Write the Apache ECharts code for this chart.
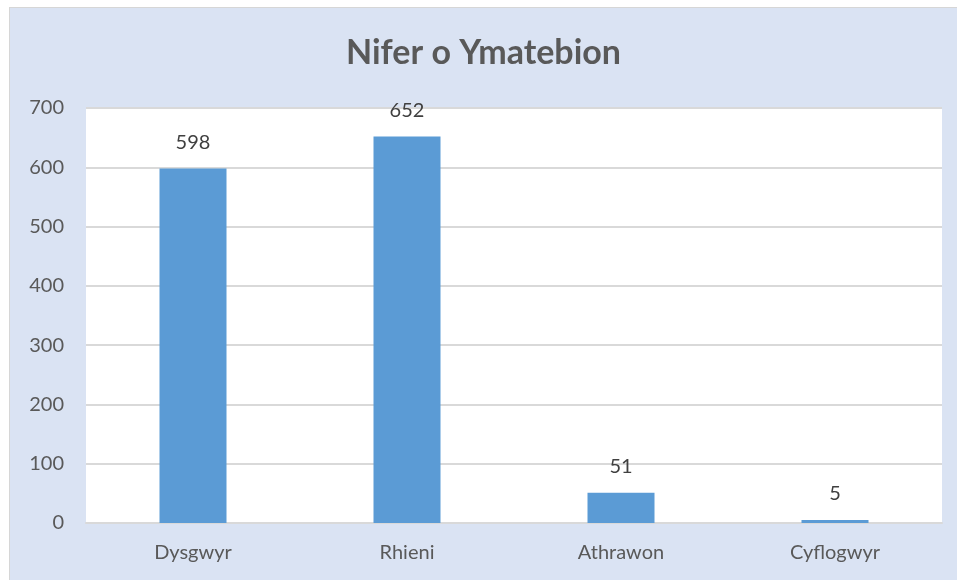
<!DOCTYPE html>
<html>
<head>
<meta charset="utf-8">
<script src="https://cdn.jsdelivr.net/npm/echarts@6/dist/echarts.min.js"></script>
<style>
html,body{margin:0;padding:0;background:#ffffff;width:957px;height:580px;overflow:hidden;}
#wrap{position:absolute;left:9px;top:7px;border-left:1px solid #d6d6d6;border-top:1px solid #d6d6d6;}
#chart{width:947px;height:572px;}
</style>
</head>
<body>
<div id="wrap"><div id="chart"></div></div>
<script>
const titleText = 'Nifer o Ymatebion';
const categories = ['Dysgwyr', 'Rhieni', 'Athrawon', 'Cyflogwyr'];
const values = [598, 652, 51, 5];
const yTicks = [0, 100, 200, 300, 400, 500, 600, 700];

const FONT = 'Lato, "Open Sans", sans-serif';
const chart = echarts.init(document.getElementById('chart'), null, {renderer: 'canvas'});
chart.setOption({
  backgroundColor: '#dae3f3',
  animation: false,
  title: {
    text: titleText,
    left: 'center',
    top: 23,
    textStyle: {fontFamily: FONT, fontSize: 34, fontWeight: 'bold', color: '#595959'}
  },
  grid: {left: 76, top: 100, width: 856, height: 415, containLabel: false, backgroundColor: '#ffffff', show: true, borderWidth: 0},
  xAxis: {
    type: 'category',
    data: categories,
    axisLine: {show: true, lineStyle: {color: '#d9d9d9', width: 2}},
    axisTick: {show: false},
    axisLabel: {fontFamily: FONT, fontSize: 20, color: '#595959', margin: 20}
  },
  yAxis: {
    type: 'value',
    min: yTicks[0],
    max: yTicks[yTicks.length - 1],
    interval: 100,
    axisLine: {show: false},
    axisTick: {show: false},
    splitLine: {lineStyle: {color: '#d9d9d9', width: 2}},
    axisLabel: {fontFamily: FONT, fontSize: 20, color: '#595959', margin: 22}
  },
  series: [{
    type: 'bar',
    data: values,
    barWidth: 67,
    itemStyle: {color: '#5b9bd5'},
    label: {show: true, position: 'top', distance: 16, fontFamily: FONT, fontSize: 20, color: '#404040'}
  }]
});
</script>
</body>
</html>
